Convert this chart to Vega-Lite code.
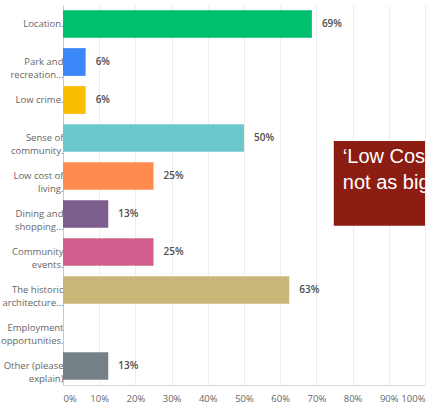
{
  "$schema": "https://vega.github.io/schema/vega-lite/v6.json",
  "width": 362,
  "height": 380,
  "autosize": {"type": "none"},
  "padding": {"left": 63, "top": 5, "right": 1, "bottom": 22},
  "background": "white",
  "config": {
    "view": {"stroke": null},
    "font": "Open Sans",
    "axisX": {
      "title": null,
      "format": "%",
      "tickCount": 10,
      "labelFlush": true,
      "labelOverlap": false,
      "ticks": false,
      "domainColor": "#d9d9d9",
      "gridColor": "#ececec",
      "labelPadding": 8,
      "labelFontSize": 9.5,
      "labelColor": "#666666"
    }
  },
  "layer": [
    {
      "data": {
        "values": [
          {"answer": "Location.", "share": 0.6875},
          {"answer": "Park and|recreation...", "share": 0.0625},
          {"answer": "Low crime.", "share": 0.0625},
          {"answer": "Sense of|community.", "share": 0.5},
          {"answer": "Low cost of|living.", "share": 0.25},
          {"answer": "Dining and|shopping...", "share": 0.125},
          {"answer": "Community|events.", "share": 0.25},
          {"answer": "The historic|architecture...", "share": 0.625},
          {"answer": "Employment|opportunities.", "share": 0},
          {"answer": "Other (please|explain)", "share": 0.125}
        ]
      },
      "encoding": {
        "y": {
          "field": "answer",
          "type": "nominal",
          "sort": null,
          "scale": {"paddingInner": 0.27, "paddingOuter": 0.135},
          "axis": {
            "title": null,
            "labelExpr": "split(datum.label, '|')",
            "labelAlign": "right",
            "labelPadding": 0,
            "labelFontSize": 9.5,
            "labelColor": "#666666",
            "labelLineHeight": 13,
            "labelLimit": 200,
            "ticks": false,
            "domain": true,
            "domainColor": "#c8c8c8",
            "grid": false
          }
        },
        "x": {
          "field": "share",
          "type": "quantitative",
          "scale": {"domain": [0, 1]},
          "axis": {"title": null}
        }
      },
      "layer": [
        {
          "mark": {"type": "bar"},
          "encoding": {
            "color": {
              "field": "answer",
              "type": "nominal",
              "sort": null,
              "legend": null,
              "scale": {
                "domain": ["Location.", "Park and|recreation...", "Low crime.", "Sense of|community.", "Low cost of|living.", "Dining and|shopping...", "Community|events.", "The historic|architecture...", "Employment|opportunities.", "Other (please|explain)"],
                "range": ["#00BF6F", "#3A87F8", "#F9BE00", "#6BC8CD", "#FF8B4F", "#7D5C8E", "#D25F8E", "#C9B77A", "#A0A0A0", "#768087"]
              }
            }
          }
        },
        {
          "transform": [{"filter": "datum.share > 0"}],
          "mark": {"type": "text", "align": "left", "baseline": "middle", "dx": 10, "fontSize": 10, "fontWeight": 600, "color": "#4d4d4d"},
          "encoding": {
            "text": {"field": "share", "type": "quantitative", "format": ".0%"}
          }
        }
      ]
    },
    {
      "layer": [
        {
          "data": {"values": [{"share": 0.748, "share_end": 1.0, "y1": 3.58, "y2": 5.81}]},
          "mark": {"type": "rect", "color": "#8C1D12", "clip": true},
          "encoding": {
            "x": {"field": "share", "type": "quantitative", "scale": {"domain": [0, 1]}, "axis": {"title": null}},
            "x2": {"field": "share_end"},
            "y": {"field": "y1", "type": "quantitative", "scale": {"domain": [0, 10], "reverse": true}, "axis": null},
            "y2": {"field": "y2"}
          }
        },
        {
          "data": {"values": [
            {"share": 0.773, "y": 4.17, "note": "‘Low Cost of Living’ was"},
            {"share": 0.773, "y": 4.84, "note": "not as big a factor"}
          ]},
          "mark": {"type": "text", "align": "left", "baseline": "alphabetic", "font": "Liberation Sans", "fontSize": 20, "color": "#ffffff", "clip": true},
          "encoding": {
            "x": {"field": "share", "type": "quantitative", "scale": {"domain": [0, 1]}, "axis": {"title": null}},
            "y": {"field": "y", "type": "quantitative", "scale": {"domain": [0, 10], "reverse": true}, "axis": null},
            "text": {"field": "note"}
          }
        }
      ]
    }
  ],
  "resolve": {"scale": {"y": "independent"}}
}
